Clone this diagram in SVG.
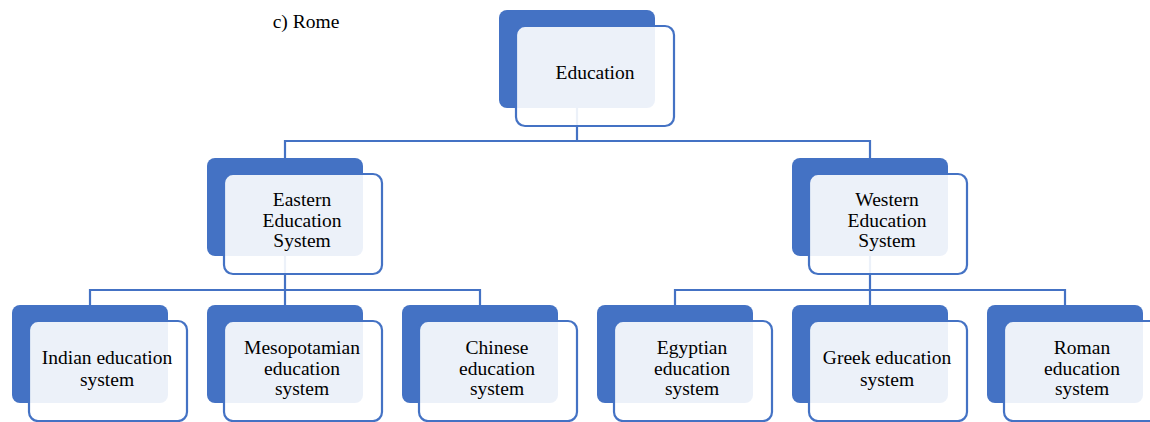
<svg xmlns="http://www.w3.org/2000/svg" width="1150" height="422" viewBox="0 0 1150 422">
<style>
.back{fill:#4472C4;}
.front{fill:#FFFFFF;fill-opacity:0.9;stroke:#4472C4;stroke-width:2.2;}
.conn{fill:none;stroke:#4472C4;stroke-width:2.2;}
.t{font-family:'Liberation Serif','Times New Roman',Times,serif;font-size:19.5px;fill:#000;text-anchor:middle;}
</style>
<rect width="1150" height="422" fill="#FFFFFF"/>
<text class="t" x="306" y="28">c) Rome</text>
<g id="connectors">
<path class="conn" d="M577 108 V141 M285 158 V141 H870 V158"/>
<path class="conn" d="M285 256 V290 M90 305 V290 H480 V305 M285 290 V305"/>
<path class="conn" d="M870 256 V290 M675 305 V290 H1065 V305 M870 290 V305"/>
</g>
<g id="education">
<rect class="back" x="499" y="10" width="156" height="98" rx="8"/>
<rect class="front" x="516" y="26" width="158" height="100" rx="9"/>
<text class="t" x="595" y="79">Education</text>
</g>
<g id="eastern">
<rect class="back" x="207" y="158" width="156" height="98" rx="8"/>
<rect class="front" x="224" y="174" width="158" height="100" rx="9"/>
<text class="t" x="302" y="206">Eastern</text>
<text class="t" x="302" y="226.5">Education</text>
<text class="t" x="302" y="247">System</text>
</g>
<g id="western">
<rect class="back" x="792" y="158" width="156" height="98" rx="8"/>
<rect class="front" x="809" y="174" width="158" height="100" rx="9"/>
<text class="t" x="887" y="206">Western</text>
<text class="t" x="887" y="226.5">Education</text>
<text class="t" x="887" y="247">System</text>
</g>
<g id="indian">
<rect class="back" x="12" y="305" width="156" height="98" rx="8"/>
<rect class="front" x="29" y="321" width="158" height="100" rx="9"/>
<text class="t" x="107" y="364">Indian education</text>
<text class="t" x="107" y="386">system</text>
</g>
<g id="mesopotamian">
<rect class="back" x="207" y="305" width="156" height="98" rx="8"/>
<rect class="front" x="224" y="321" width="158" height="100" rx="9"/>
<text class="t" x="302" y="354">Mesopotamian</text>
<text class="t" x="302" y="374.5">education</text>
<text class="t" x="302" y="395">system</text>
</g>
<g id="chinese">
<rect class="back" x="402" y="305" width="156" height="98" rx="8"/>
<rect class="front" x="419" y="321" width="158" height="100" rx="9"/>
<text class="t" x="497" y="354">Chinese</text>
<text class="t" x="497" y="374.5">education</text>
<text class="t" x="497" y="395">system</text>
</g>
<g id="egyptian">
<rect class="back" x="597" y="305" width="156" height="98" rx="8"/>
<rect class="front" x="614" y="321" width="158" height="100" rx="9"/>
<text class="t" x="692" y="354">Egyptian</text>
<text class="t" x="692" y="374.5">education</text>
<text class="t" x="692" y="395">system</text>
</g>
<g id="greek">
<rect class="back" x="792" y="305" width="156" height="98" rx="8"/>
<rect class="front" x="809" y="321" width="158" height="100" rx="9"/>
<text class="t" x="887" y="364">Greek education</text>
<text class="t" x="887" y="386">system</text>
</g>
<g id="roman">
<rect class="back" x="987" y="305" width="156" height="98" rx="8"/>
<rect class="front" x="1004" y="321" width="158" height="100" rx="9"/>
<text class="t" x="1082" y="354">Roman</text>
<text class="t" x="1082" y="374.5">education</text>
<text class="t" x="1082" y="395">system</text>
</g>
</svg>
